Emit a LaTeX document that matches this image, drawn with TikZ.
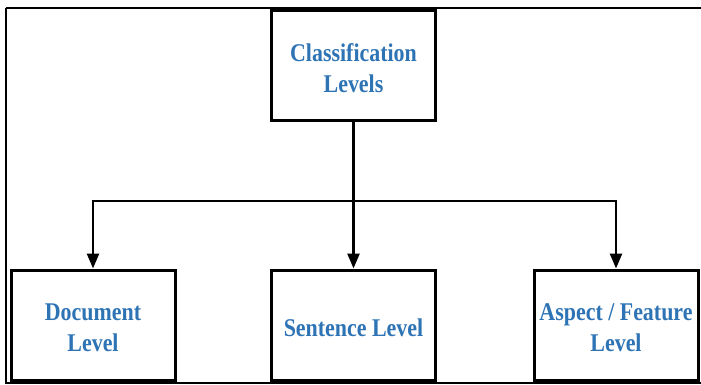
\documentclass[tikz,border=0pt]{standalone}
\usepackage{fontspec}
\usetikzlibrary{arrows.meta}
\newfontfamily\labfont[FakeStretch=0.86]{Liberation Serif}
\definecolor{labblue}{HTML}{2E74B5}
\tikzset{
  lvlbox/.style={draw=black, line width=3pt, minimum width=164pt, minimum height=110pt},
  lvltext/.style={align=center, inner sep=0pt, yshift=-2.5pt,
    font=\labfont\bfseries\fontsize{25.5}{31}\selectfont, text=labblue},
  conn/.style={line width=2.5pt},
  arr/.style={conn, -{Triangle[width=12pt,length=15pt]}}
}
\begin{document}
\begin{tikzpicture}[x=1pt,y=-1pt]
\useasboundingbox (0,0) rectangle (701,385);
\draw[line width=1.5pt] (6,8) -- (708,8);
\draw[line width=1.5pt] (6,8) -- (6,383) -- (708,383);
\node[lvlbox, label={[lvltext]center:{Classification\\Levels}}] (top) at (353.5,66) {};
\node[lvlbox, label={[lvltext]center:{Document\\Level}}] (doc) at (93,325) {};
\node[lvlbox, label={[lvltext]center:{Sentence Level}}] (sent) at (353.5,325) {};
\node[lvlbox, label={[lvltext]center:{Aspect / Feature\\Level}}] (asp) at (616,325) {};
\coordinate (junc) at (353.5,201);
\draw[conn] (top.south) -- (junc);
\draw[arr] (junc) -| (doc.north);
\draw[arr] (junc) -- (sent.north);
\draw[arr] (junc) -| (asp.north);
\end{tikzpicture}
\end{document}
